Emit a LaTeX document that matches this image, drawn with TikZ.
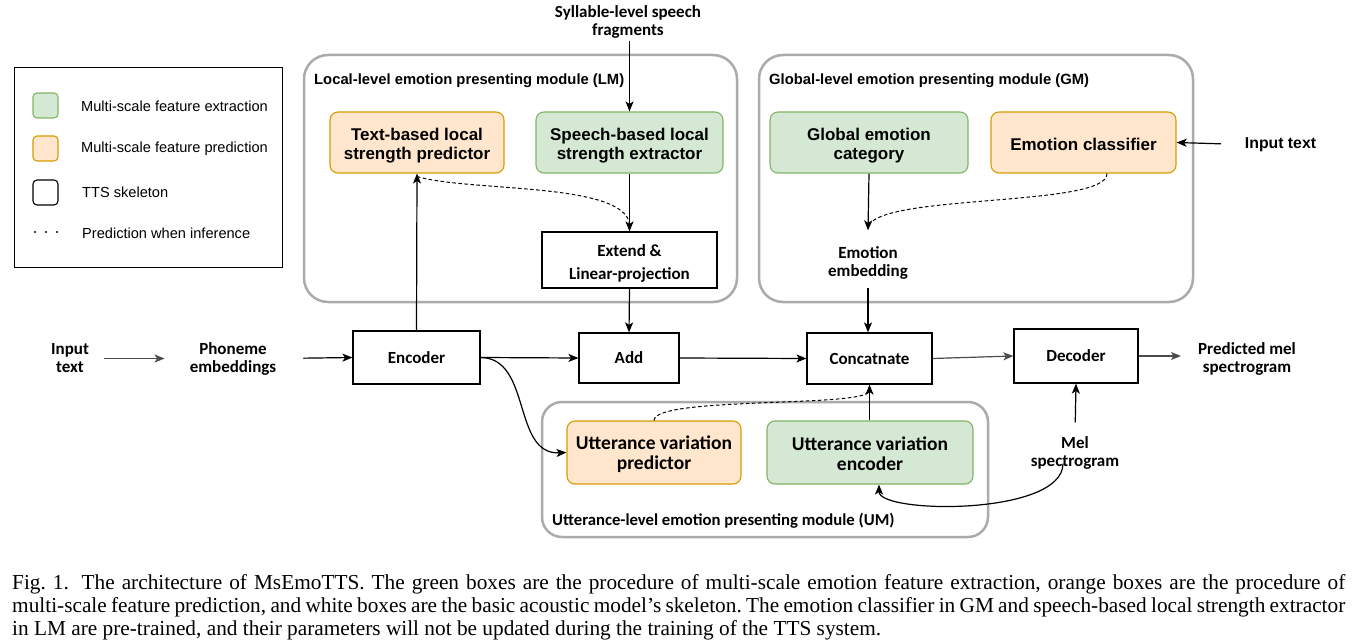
\documentclass[tikz,border=0pt]{standalone}
\usepackage{fontspec}
\setmainfont{Liberation Serif}
\newfontfamily\arialf{Liberation Sans}
\newfontfamily\calf{Carlito}
\usetikzlibrary{arrows.meta}
\definecolor{gfill}{HTML}{D5E8D4}
\definecolor{gline}{HTML}{82B366}
\definecolor{ofill}{HTML}{FFE6CC}
\definecolor{oline}{HTML}{D79B00}
\definecolor{modline}{HTML}{ABABAB}
\newcommand\dn[1]{\rule{0pt}{#1}}
\begin{document}
\begin{tikzpicture}[x=1pt,y=-1pt,
  arr/.style={line width=1.2pt,-{Stealth[length=10pt,width=8pt,inset=2.5pt]}},
  garr/.style={arr,draw=black!70,fill=black!70},
  dsh/.style={line width=1pt,dash pattern=on 3.5pt off 2.5pt},
  greenbox/.style={draw=gline,fill=gfill,rounded corners=8pt,line width=1.1pt,align=center,font=\arialf\bfseries\fontsize{17}{19}\selectfont,inner sep=0pt},
  orangebox/.style={draw=oline,fill=ofill,rounded corners=8pt,line width=1.1pt,align=center,font=\arialf\bfseries\fontsize{17}{19}\selectfont,inner sep=0pt},
  uvbox/.style={font=\calf\bfseries\fontsize{19.5}{20}\selectfont},
  whitebox/.style={draw=black,fill=white,line width=1.2pt,align=center,font=\calf\bfseries\fontsize{17}{23}\selectfont,inner sep=0pt},
  lbl/.style={align=center,font=\calf\bfseries\fontsize{17}{18}\selectfont,inner sep=2pt},
  module/.style={draw=modline,line width=2.5pt,rounded corners=24pt},
  modtitle/.style={anchor=west,inner sep=0pt},
  legtext/.style={anchor=west,inner sep=0pt,font=\arialf\fontsize{14.6}{17}\selectfont},
  legsq/.style={rounded corners=4pt,line width=1.1pt}
]
\useasboundingbox (0,0) rectangle (1354,644);

% legend
\draw[line width=0.9pt] (14,67) rectangle (282,267);
\draw[legsq,draw=gline,fill=gfill] (33,93) rectangle (58,118);
\draw[legsq,draw=oline,fill=ofill] (33,136) rectangle (58,161);
\draw[legsq,draw=black] (33,180) rectangle (58,205);
\foreach \xx in {35,46,57} \fill (\xx,232) circle (1.2pt);
\node[legtext] (lg1) at (81,106) {Multi-scale feature extraction};
\node[legtext] (lg2) at (81,149) {Multi-scale feature prediction};
\node[legtext] (lg3) at (82,192) {TTS skeleton};
\node[legtext] (lg4) at (82,233) {Prediction when inference};

% modules
\draw[module] (304,55) rectangle (737,302);
\draw[module] (759,55) rectangle (1193,302);
\draw[module,rounded corners=20pt] (542,402) rectangle (988,537);
\node[modtitle,font=\arialf\bfseries\fontsize{14.8}{16}\selectfont] (lmt) at (314,81) {Local-level emotion presenting module (LM)};
\node[modtitle,font=\arialf\bfseries\fontsize{14.8}{16}\selectfont] (gmt) at (769,81) {Global-level emotion presenting module (GM)};
\node[modtitle,font=\calf\bfseries\fontsize{16.7}{18}\selectfont] (umt) at (552,521) {Utterance-level emotion presenting module (UM)};

% boxes
\node[orangebox,minimum width=174pt,minimum height=61pt] (tbl) at (417,142.5) {\dn{18pt}Text-based local\\strength predictor};
\node[greenbox,minimum width=187pt,minimum height=61pt] (sbl) at (629.5,142.5) {\dn{18pt}Speech-based local\\strength extractor};
\node[whitebox,minimum width=175pt,minimum height=56pt] (ext) at (629.5,260) {\dn{19pt}Extend \&\\Linear-projection};
\node[greenbox,minimum width=198pt,minimum height=61pt] (gec) at (869,142.5) {\dn{18pt}Global emotion\\category};
\node[orangebox,minimum width=185pt,minimum height=61pt] (ecl) at (1083.5,142.5) {\dn{16pt}Emotion classifier};
\node[whitebox,minimum width=127pt,minimum height=53pt] (enc) at (416.5,357.5) {Encoder};
\node[whitebox,minimum width=100pt,minimum height=50pt] (add) at (629,358) {Add};
\node[whitebox,minimum width=125pt,minimum height=51pt] (cat) at (869.5,358.5) {Concatnate};
\node[whitebox,minimum width=124pt,minimum height=54pt] (dec) at (1076,356) {Decoder};
\node[orangebox,uvbox,minimum width=174pt,minimum height=63pt] (uvp) at (654,452.5) {\dn{17pt}Utterance variation\\predictor};
\node[greenbox,uvbox,minimum width=206pt,minimum height=63pt] (uve) at (870,452.5) {\dn{17pt}Utterance variation\\encoder};

% labels
\node[lbl] (syl) at (628,22) {Syllable-level speech\\fragments};
\node[lbl] (emb) at (868,263) {Emotion\\embedding};
\node[lbl] (intx) at (70,358.5) {Input\\text};
\node[lbl] (pho) at (233,358.5) {Phoneme\\embeddings};
\node[lbl] (pred) at (1247,359) {Predicted mel\\spectrogram};
\node[lbl] (mel) at (1075,453) {Mel\\spectrogram};
\node[lbl,font=\arialf\bfseries\fontsize{15.8}{17}\selectfont] (in2) at (1280.5,144.5) {Input text};

% connectors
\draw[arr] (syl.south -| sbl.north) -- (sbl.north);
\draw[arr] (sbl.south) -- (ext.north);
\draw[arr] (enc.north) -- (tbl.south);
\draw[arr] (ext.south) -- (add.north);
\draw[dsh] ([yshift=-3pt]tbl.south) .. controls (470,192) and (622,182) .. ([yshift=8pt]ext.north);
\draw[arr] (gec.south) -- ([yshift=14pt]emb.north);
\draw[dsh] (ecl.south -| 1107,0) .. controls (1108,208) and (871,193) .. ([yshift=16pt]emb.north);
\draw[arr] ([yshift=-6pt]emb.south) -- (emb.south |- cat.north);
\draw[arr,shorten <=22pt] (in2.west) -- (ecl.east);
\draw[garr,shorten <=13pt,shorten >=23pt] (intx.east) -- (pho.west);
\draw[arr,shorten <=25pt] (pho.east) -- (enc.west);
\draw[arr] (enc.east) -- (add.west);
\draw[arr] (add.east) -- (cat.west);
\draw[garr] (cat.east) -- (dec.west);
\draw[garr,shorten >=15pt] (dec.east) -- (pred.west |- dec.east);
\draw[arr] (enc.east) .. controls (532,358) and (512,455) .. (uvp.west);
\draw[arr] (uve.north -| cat.south) -- (cat.south);
\draw[dsh] (uvp.north) .. controls (654,396) and (869,408) .. ([yshift=-6pt]cat.south);
\draw[arr,shorten <=12pt] (mel.north) -- (dec.south);
\draw[arr] ([yshift=8pt]mel.south -| 1063,0) .. controls (1063,516) and (879,514) .. (uve.south -| 879,0);

% caption
\node[anchor=north west,inner sep=0pt,text width=1333pt,align=justify,font=\frenchspacing\fontsize{21.3}{23}\selectfont] (cap) at (12,574)
{Fig.~1.\hspace{0.6em}The architecture of MsEmoTTS. The green boxes are the procedure of multi-scale emotion feature extraction, orange boxes are the procedure of\linebreak
multi-scale feature prediction, and white boxes are the basic acoustic model's skeleton. The emotion classifier in GM and speech-based local strength extractor\linebreak
in LM are pre-trained, and their parameters will not be updated during the training of the TTS system.};
\end{tikzpicture}
\end{document}
